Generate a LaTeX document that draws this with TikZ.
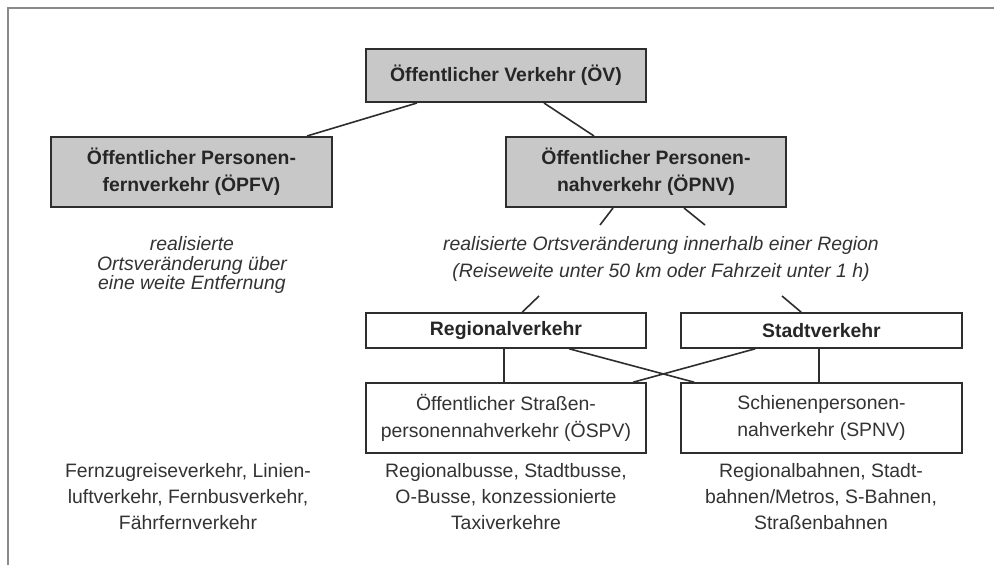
\documentclass[tikz,border=0pt]{standalone}
\usepackage{fontspec}
\setmainfont{Liberation Sans}
\usetikzlibrary{calc}
\definecolor{boxgray}{HTML}{C8C8C8}
\definecolor{edge}{HTML}{2E2E2E}
\definecolor{txt}{HTML}{333333}
\definecolor{frame}{HTML}{8A8A8A}
\tikzset{
  graybox/.style={draw=edge, line width=2pt, fill=boxgray, inner sep=0pt, align=center,
    font=\fontsize{19.4}{27}\selectfont\bfseries, text=black!85},
  whitebox/.style={draw=edge, line width=1.6pt, fill=white, inner sep=0pt, align=center,
    font=\fontsize{19.4}{27}\selectfont, text=txt},
  boldwhite/.style={whitebox, font=\fontsize{19.4}{27}\selectfont\bfseries, text=black!85},
  itnote/.style={align=center, inner sep=0pt, text=txt, font=\fontsize{19.4}{27}\selectfont\itshape},
  itnotetight/.style={itnote, font=\fontsize{19.4}{19.6}\selectfont\itshape},
  plainnote/.style={align=center, inner sep=0pt, text=txt, font=\fontsize{19.4}{26}\selectfont},
  conn/.style={draw=edge, line width=1.6pt},
  frameline/.style={draw=frame, line width=1.6pt}
}
\begin{document}
\begin{tikzpicture}[x=1pt,y=-1pt]
\useasboundingbox (0,0) rectangle (994,565);
\fill[white] (0,0) rectangle (994,565);
% frame
\coordinate (fbl) at (8,566);
\coordinate (ftl) at (8,8);
\coordinate (ftr) at (995,8);
\draw[frameline] (fbl) -- (ftl) -- (ftr);

% boxes
\node[graybox, minimum width=280pt, minimum height=53pt] (oev) at (506,75.5) {Öffentlicher Verkehr (ÖV)};
\node[graybox, minimum width=281pt, minimum height=70pt] (opfv) at (191.5,172) {Öffentlicher Personen-\\fernverkehr (ÖPFV)};
\node[graybox, minimum width=280pt, minimum height=70pt] (opnv) at (646,172) {Öffentlicher Personen-\\nahverkehr (ÖPNV)};
\node[boldwhite, minimum width=280pt, minimum height=35pt] (reg) at (506,330.5) {Regionalverkehr};
\node[boldwhite, minimum width=281pt, minimum height=35pt] (stadt) at (821.5,330.5) {Stadtverkehr};
\node[whitebox, minimum width=280pt, minimum height=70pt] (ospv) at (506,418) {Öffentlicher Straßen-\\personennahverkehr (ÖSPV)};
\node[whitebox, minimum width=281pt, minimum height=70pt] (spnv) at (821.5,418) {Schienenpersonen-\\nahverkehr (SPNV)};

% notes
\node[itnotetight] (fernnote) at (192,265) {realisierte\\Ortsveränderung über\\eine weite Entfernung};
\node[itnote] (nahnote) at (661,259) {realisierte Ortsveränderung innerhalb einer Region\\(Reiseweite unter 50 km oder Fahrzeit unter 1 h)};
\node[plainnote] (fernex) at (188,497) {Fernzugreiseverkehr, Linien-\\luftverkehr, Fernbusverkehr,\\Fährfernverkehr};
\node[plainnote] (ospvex) at (506,497) {Regionalbusse, Stadtbusse,\\O-Busse, konzessionierte\\Taxiverkehre};
\node[plainnote] (spnvex) at (821,497) {Regionalbahnen, Stadt-\\bahnen/Metros, S-Bahnen,\\Straßenbahnen};

% connectors
\draw[conn] ($(oev.south west)+(52,0)$) -- ($(opfv.north west)+(257,0)$);
\draw[conn] ($(oev.south west)+(179,0)$) -- ($(opnv.north west)+(89,0)$);

\coordinate (s1) at (600,225);
\coordinate (s2) at (705,225);
\draw[conn] ($(opnv.south west)+(108,0)$) -- (s1);
\draw[conn] ($(opnv.south west)+(179,0)$) -- (s2);

\coordinate (s3) at (539,296);
\coordinate (s4) at (782,296);
\draw[conn] (s3) -- ($(reg.north west)+(157,0)$);
\draw[conn] (s4) -- ($(stadt.north west)+(121,0)$);

\draw[conn] ($(reg.south west)+(139,0)$) -- ($(ospv.north west)+(139,0)$);
\draw[conn] ($(stadt.south west)+(139,0)$) -- ($(spnv.north west)+(139,0)$);
\draw[conn] ($(reg.south west)+(204,0)$) -- ($(spnv.north west)+(14,0)$);
\draw[conn] ($(stadt.south west)+(75,0)$) -- ($(ospv.north west)+(268,0)$);
\end{tikzpicture}
\end{document}
